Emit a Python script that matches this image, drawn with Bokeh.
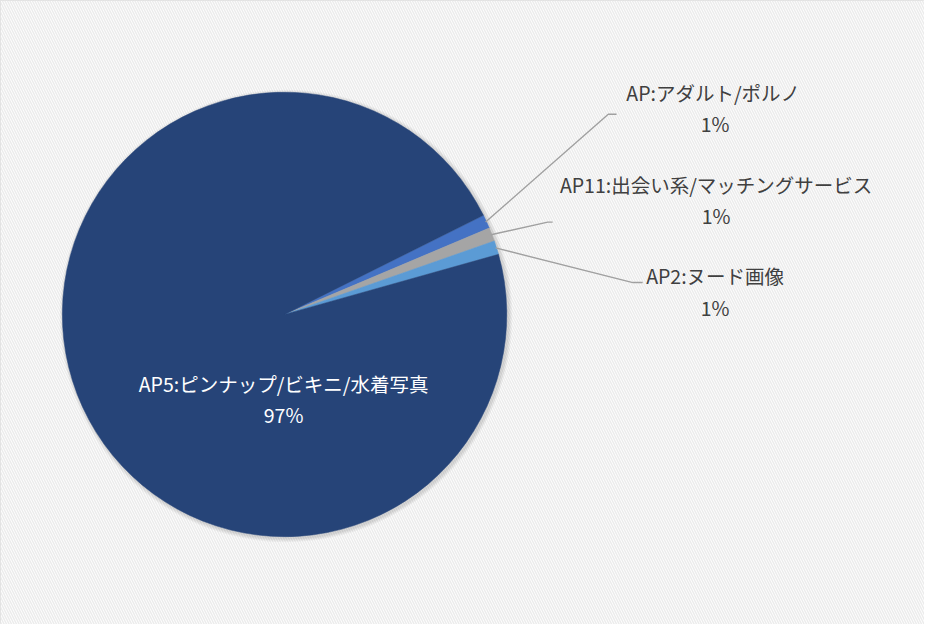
import math
from bokeh.plotting import figure
from bokeh.models import ColumnDataSource, BoxAnnotation
from bokeh.embed import file_html
from bokeh.resources import INLINE
from bokeh.core.properties import value

# ---- data ----
categories = ["AP:アダルト/ポルノ", "AP11:出会い系/マッチングサービス", "AP2:ヌード画像",
              "AP5:ピンナップ/ビキニ/水着写真"]
shares = [1.0, 1.0, 1.0, 97.0]
pct_labels = ["1%", "1%", "1%", "97%"]
colors = ["#4472C4", "#A5A5A5", "#5B9BD5", "#264478"]

# ---- layout ----
W, H = 924, 624
REF_W, REF_H = 940, 640


def px(X, Y):
    """layout helper: reference-page pixel -> figure coordinates"""
    return X * W / REF_W, H - Y * H / REF_H


CX, CY = px(289, 322)
R = 227 * (W / REF_W + H / REF_H) / 2
START_DEG = 26.5
FONT = "Noto Sans CJK JP"
FS = "19.5px"

p = figure(width=W, height=H, x_range=(0, W), y_range=(0, H),
           output_backend="svg", toolbar_location=None, min_border=0)
p.axis.visible = False
p.grid.visible = False
p.outline_line_color = "#D9D9D9"
p.outline_line_width = 1
p.background_fill_color = "white"
p.border_fill_color = "white"

p.add_layout(BoxAnnotation(left=0, right=W, bottom=0, top=H,
                           fill_color="white", fill_alpha=1.0, line_alpha=0,
                           hatch_pattern="\\", hatch_color="#ECECEC",
                           hatch_scale=5, hatch_weight=1.5, level="underlay"))

# soft shadow
for k in range(1, 5):
    p.circle(x=[CX + 1.5], y=[CY - 1.5], radius=R + k, fill_color="black",
             fill_alpha=0.035, line_color=None)

# wedges, clockwise from START_DEG
total = sum(shares)
cum = 0.0
starts, ends, mids = [], [], []
for s in shares:
    a_hi = math.radians(START_DEG - cum / total * 360.0)
    cum += s
    a_lo = math.radians(START_DEG - cum / total * 360.0)
    starts.append(a_lo)
    ends.append(a_hi)
    mids.append((a_lo + a_hi) / 2)

src = ColumnDataSource(dict(start=starts, end=ends, color=colors,
                            x=[CX] * len(shares), y=[CY] * len(shares)))
p.wedge(x="x", y="y", radius=R, start_angle="start", end_angle="end",
        fill_color="color", line_color="color", line_width=0.5, source=src)

# outside labels for the small slices
name_pos = [px(725, 94), px(728, 188.5), px(727, 282)]
pct_pos = [px(727, 126), px(728, 221), px(727, 315)]
elbows = [px(618.3, 116.7), px(556.7, 227.3), px(643.3, 289.3)]
line_end = [px(626.7, 116.7), px(561.7, 227.3), px(653.3, 289.3)]

xs, ys = [], []
for i in range(3):
    sx = CX + (R - 1) * math.cos(mids[i])
    sy = CY + (R - 1) * math.sin(mids[i])
    xs.append([sx, elbows[i][0], line_end[i][0]])
    ys.append([sy, elbows[i][1], line_end[i][1]])
p.multi_line(xs=xs, ys=ys, line_color="#A0A0A0", line_width=1.4)

lab = ColumnDataSource(dict(
    x=[q[0] for q in name_pos] + [q[0] for q in pct_pos],
    y=[q[1] for q in name_pos] + [q[1] for q in pct_pos],
    t=categories[:3] + pct_labels[:3]))
p.text(x="x", y="y", text="t", source=lab, text_align="center",
       text_baseline="middle", text_color="#404040",
       text_font=value(FONT), text_font_size=FS)

# inside label for the big slice
ix1, iy1 = px(288, 393)
ix2, iy2 = px(288, 425)
inner = ColumnDataSource(dict(x=[ix1, ix2], y=[iy1, iy2],
                              t=[categories[3], pct_labels[3]]))
p.text(x="x", y="y", text="t", source=inner, text_align="center",
       text_baseline="middle", text_color="white",
       text_font=value(FONT), text_font_size=FS)

open("out.html", "w").write(file_html(p, INLINE))
